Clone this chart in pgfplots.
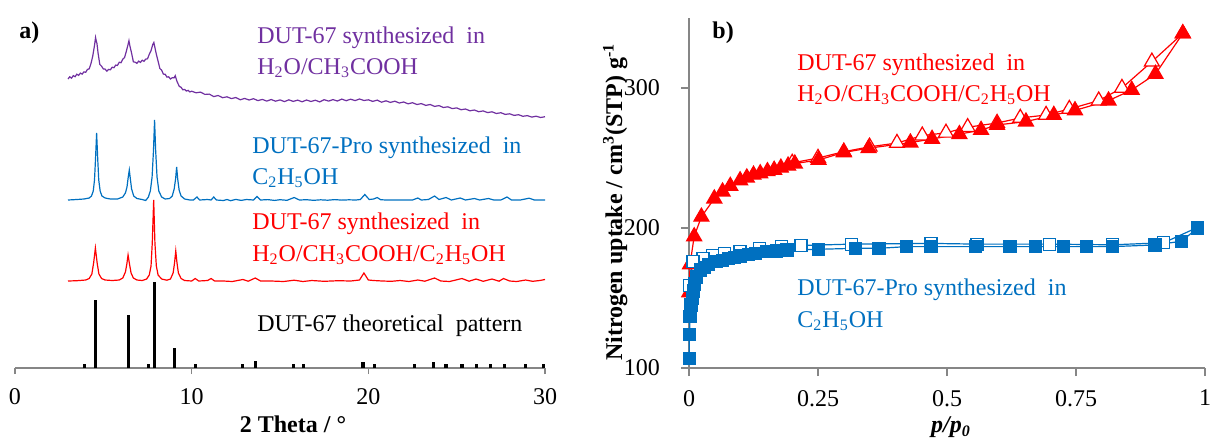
\documentclass[border=0pt]{standalone}
\usepackage{fontspec}
\setmainfont{Liberation Serif}
\usepackage{pgfplots}
\pgfplotsset{compat=1.18}
\definecolor{mypurple}{HTML}{7030A0}
\definecolor{myblue}{HTML}{0070C0}
\definecolor{myred}{HTML}{FF0000}
\definecolor{axgray}{HTML}{868686}
\newcommand{\fs}{\fontsize{12}{14}\selectfont}
\begin{document}
\begin{tikzpicture}
\path[use as bounding box] (0,0) rectangle (606.5pt,-220pt);
% ---------------- panel a ----------------
\begin{axis}[
  at={(7.5pt,-184pt)}, anchor=south west,
  scale only axis, width=265pt, height=175pt,
  xmin=0, xmax=30, ymin=0, ymax=350,
  axis x line*=bottom, axis y line=none,
  xtick={0,10,20,30}, ytick=\empty,
  tick align=outside, major tick length=3pt,
  axis line style={axgray, line width=0.8pt},
  tick style={axgray, line width=0.8pt},
  ticklabel style={font=\fs},
  xticklabel style={yshift=-3.5pt},
  /pgf/number format/assume math mode=true,
  xlabel={\textbf{2 Theta / °}}, xlabel style={font=\fs, xshift=6.5pt, yshift=1pt},
  clip=false,
]
\addplot[black, line width=1.6pt, ycomb, no marks] coordinates {
(3.95,4) (4.56,68) (6.41,53) (7.54,4) (7.88,86) (9.05,20) (10.2,4) (12.86,4)
(13.63,7) (15.77,4) (16.35,4) (19.7,6) (20.36,4) (22.6,4) (23.7,6) (24.4,4)
(25.3,4) (26.1,4) (26.9,4) (27.7,4) (28.9,4) (29.9,4)};
\addplot[myred, line width=0.6pt, no marks] coordinates {
(3.0,87) (3.5,87.3) (4.0,88) (4.2,89.5) (4.35,94) (4.45,105) (4.55,120) (4.65,105)
(4.75,94) (4.9,89.5) (5.1,88) (5.5,87.5) (5.9,88) (6.1,90) (6.25,96) (6.33,104)
(6.4,113) (6.48,104) (6.57,95) (6.7,90) (6.9,88) (7.2,87.5) (7.45,89) (7.6,93)
(7.7,102) (7.77,125) (7.85,168) (7.92,125) (8.0,102) (8.1,93) (8.3,89) (8.6,87.8)
(8.8,89) (8.95,95) (9.03,105) (9.1,117) (9.17,105) (9.25,95) (9.4,89.5) (9.6,87.5)
(10.0,87) (10.2,89.5) (10.4,87) (10.9,87.5) (11.1,89.5) (11.3,87) (11.8,87) (12.3,86.5)
(12.9,88.5) (13.2,86.8) (13.6,90) (13.9,87) (14.5,87) (15.2,86.5) (15.8,87.8) (16.3,86.5)
(16.8,87.5) (17.5,86.7) (18.3,87.3) (19.0,87) (19.5,88) (19.75,95) (20.0,88) (20.3,87.5)
(20.8,87) (21.3,86.7) (21.8,87.5) (22.3,86.5) (22.8,88) (23.2,86.8) (23.75,90) (24.1,87)
(24.6,86.5) (25.3,89.5) (25.7,86.8) (26.1,89) (26.5,86.7) (27.0,89) (27.4,86.8) (27.65,89.5)
(28.0,87) (28.4,86.5) (28.9,88) (29.3,86.7) (29.7,87.5) (30.0,88.5)};
\addplot[myblue, line width=0.6pt, no marks] coordinates {
(3.0,168) (3.5,168.5) (3.9,169) (4.2,170) (4.33,172) (4.43,177) (4.5,188) (4.56,210)
(4.62,235) (4.68,210) (4.74,188) (4.82,177) (4.92,172) (5.1,170) (5.4,169) (5.8,169)
(6.1,171) (6.25,175) (6.34,181) (6.41,191) (6.47,198) (6.53,189) (6.6,179) (6.72,172)
(6.9,169.5) (7.2,168.5) (7.4,167.5) (7.55,171) (7.66,177) (7.76,191) (7.84,218) (7.9,248)
(7.96,218) (8.04,191) (8.14,177) (8.3,171) (8.5,169) (8.75,169.5) (8.9,172) (9.01,179)
(9.09,189) (9.15,201) (9.21,189) (9.29,178) (9.4,172) (9.6,169) (9.9,168) (10.1,168)
(10.3,171) (10.45,168) (10.9,168.5) (11.1,168) (11.25,171) (11.4,168) (11.8,167.5) (12.0,168.5)
(12.2,167.3) (12.5,168.6) (12.8,167.6) (13.1,168.5) (13.5,168) (13.7,171.5) (13.9,168) (14.3,168.4)
(14.7,167.6) (15.0,168.3) (15.4,167.7) (15.8,170.5) (16.1,168) (16.5,168.3) (16.9,167.7) (17.3,168.2)
(17.7,167.8) (18.1,168.4) (18.5,167.9) (18.9,168.2) (19.3,168) (19.55,168.5) (19.8,173.5) (20.05,168.5)
(20.3,169) (20.5,170.5) (20.7,168.3) (21.0,168) (21.5,168) (22.0,168) (22.5,168) (22.8,170)
(23.0,168) (23.4,168.5) (23.75,172) (24.0,168.5) (24.4,170.5) (24.7,168) (25.2,170) (25.5,168)
(26.0,169.5) (26.3,168) (26.8,169.5) (27.1,168) (27.5,168) (27.85,171) (28.1,168) (28.6,168)
(29.1,169.8) (29.4,168) (30.0,168)};
\addplot[mypurple, line width=0.6pt, no marks] coordinates {
(3.0,289.0) (3.1,291.2) (3.2,289.8) (3.3,292.4) (3.4,291.3) (3.5,293.8) (3.6,292.6) (3.7,294.9)
(3.8,293.9) (3.9,296.1) (4.0,295.7) (4.1,298.6) (4.2,299.2) (4.3,304.5) (4.4,311.8) (4.5,322.5)
(4.56,330.5) (4.6,327.0) (4.64,324.5) (4.7,315.2) (4.8,303.6) (4.9,301.8) (5.0,299.1) (5.1,298.9)
(5.2,296.8) (5.3,298.6) (5.4,298.2) (5.5,300.8) (5.6,300.3) (5.7,302.9) (5.8,302.6) (5.9,305.8)
(6.0,305.3) (6.1,308.8) (6.2,310.4) (6.3,316.6) (6.4,323.5) (6.45,327.3) (6.5,322.4) (6.6,314.8)
(6.7,306.2) (6.8,305.8) (6.9,304.7) (7.0,306.9) (7.1,305.6) (7.2,307.8) (7.3,306.7) (7.4,308.9)
(7.5,309.2) (7.6,313.7) (7.7,317.4) (7.8,323.6) (7.86,325.5) (7.92,320.4) (8.0,313.8) (8.1,306.7)
(8.2,299.5) (8.3,297.8) (8.4,293.9) (8.5,293.7) (8.6,290.9) (8.7,291.2) (8.8,289.0) (8.9,290.3)
(9.0,290.1) (9.07,292.3) (9.15,287.6) (9.2,285.4) (9.3,281.6) (9.4,280.7) (9.5,278.2) (9.6,278.6)
(9.7,277.0) (9.8,277.6) (9.9,276.1) (10.0,276.8) (10.25,275.2) (10.5,275.9) (10.75,273.6) (11.0,273.9)
(11.25,271.4) (11.5,272.5) (11.75,270.3) (12.0,271.2) (12.25,269.4) (12.5,270.5) (12.75,268.2) (13.0,269.6)
(13.25,268.0) (13.5,269.3) (13.75,267.4) (14.0,268.6) (14.25,266.9) (14.5,268.5) (14.75,266.8) (15.0,268.1)
(15.25,266.4) (15.5,268.2) (15.75,266.6) (16.0,267.9) (16.25,266.2) (16.5,268.0) (16.75,266.5) (17.0,267.8)
(17.25,266.1) (17.5,268.3) (17.75,266.9) (18.0,268.4) (18.25,267.0) (18.5,268.9) (18.75,267.3) (19.0,268.8)
(19.25,267.4) (19.5,269.0) (19.75,267.5) (20.0,268.2) (20.25,266.6) (20.5,267.9) (20.75,265.8) (21.0,267.2)
(21.25,265.6) (21.5,266.8) (21.75,265.0) (22.0,266.0) (22.25,264.2) (22.5,265.3) (22.75,263.5) (23.0,264.4)
(23.25,262.6) (23.5,263.5) (23.75,261.6) (24.0,262.4) (24.25,260.5) (24.5,261.2) (24.75,259.4) (25.0,260.1)
(25.25,258.3) (25.5,259.0) (25.75,257.2) (26.0,258.0) (26.25,256.3) (26.5,257.1) (26.75,255.4) (27.0,256.2)
(27.25,254.5) (27.5,255.3) (27.75,253.6) (28.0,254.2) (28.25,252.6) (28.5,253.3) (28.75,251.7) (29.0,252.4)
(29.25,250.9) (29.5,251.8) (29.75,250.5) (30.0,251.3)};
\end{axis}
% ---------------- panel b ----------------
\begin{axis}[
  at={(344.5pt,-184pt)}, anchor=south west,
  scale only axis, width=258pt, height=175pt,
  xmin=0, xmax=1, ymin=100, ymax=350,
  axis x line*=bottom, axis y line*=left,
  xtick={0,0.25,0.5,0.75,1}, xticklabels={0,0.25,0.5,0.75,1},
  ytick={100,200,300},
  tick align=outside, major tick length=4pt,
  axis line style={axgray, line width=0.8pt},
  tick style={axgray, line width=0.8pt},
  ticklabel style={font=\fs},
  xticklabel style={yshift=-3.5pt},
  yticklabel style={xshift=-7pt},
  /pgf/number format/assume math mode=true,
  xlabel={\textbf{\textit{p/p\textsubscript{0}}}}, xlabel style={font=\fs, xshift=2pt, yshift=1.5pt},
  ylabel={\textbf{Nitrogen uptake / cm\textsuperscript{3}(STP) g\textsuperscript{-1}}},
  ylabel style={font=\fs, at={(axis description cs:-0.143,0.474)}, anchor=center},
  clip=false,
]
\addplot[myred, line width=0.6pt, mark=triangle*, mark size=4.3pt, mark options={fill=white, draw=myred, line width=0.6pt}] coordinates {
(0.957,339) (0.897,318.8) (0.839,300) (0.794,291) (0.737,285) (0.692,280.7) (0.642,278.6) (0.597,275)
(0.54,272) (0.498,268) (0.452,266) (0.403,260.7) (0.35,258) (0.30,254.5) (0.25,250) (0.20,246.5)};
\addplot[myred, line width=0.6pt, mark=triangle*, mark size=4.3pt, mark options={fill=myred, draw=myred}] coordinates {
(0.0005,154) (0.002,174) (0.010,194) (0.024,208) (0.049,221) (0.065,226) (0.08,230) (0.099,234)
(0.112,236) (0.125,238) (0.138,239) (0.152,240.5) (0.165,241.5) (0.178,243) (0.192,244.5) (0.205,246)
(0.251,248.6) (0.30,254) (0.348,257) (0.429,261) (0.471,263.6) (0.524,267) (0.566,270) (0.597,273.6)
(0.653,276) (0.707,280.7) (0.748,284) (0.813,291) (0.858,298.6) (0.904,310) (0.957,339)};
\addplot[myblue, line width=0.6pt, mark=square*, mark size=3pt, mark options={fill=white, draw=myblue, line width=0.6pt}] coordinates {
(0.986,200.5) (0.92,189.5) (0.821,188) (0.699,188.5) (0.558,188.5) (0.469,189) (0.315,188.5) (0.217,187.5)
(0.179,187) (0.137,185.5) (0.099,183.5) (0.068,182) (0.046,180.5) (0.027,178) (0.0076,176) (0.001,159)};
\addplot[myblue, line width=0.6pt, mark=square*, mark size=3pt, mark options={fill=myblue, draw=myblue}] coordinates {
(0.0002,107) (0.0008,124) (0.002,137) (0.004,145) (0.006,150) (0.008,155) (0.011,160) (0.015,165)
(0.023,170) (0.03,172) (0.038,174) (0.053,176) (0.065,177) (0.076,178) (0.088,179) (0.099,180)
(0.115,181) (0.129,182) (0.15,183) (0.17,183.6) (0.19,184.3) (0.251,184.8) (0.323,185.5) (0.368,185.5)
(0.422,186.7) (0.469,186.7) (0.555,186.7) (0.622,186.7) (0.671,186.7) (0.726,186.7) (0.771,186.7) (0.821,186.7)
(0.903,187.9) (0.954,190.5) (0.986,200)};
\end{axis}
% ---------------- annotations (pixel grid, y downwards) ----------------
\begin{scope}[x=0.5pt, y=-0.5pt, every node/.style={font=\fs, inner sep=0pt, anchor=base west}]
\node at (19,38) {\textbf{a)}};
\node[text=mypurple] at (257,43) {DUT-67 synthesized\ \ in};
\node[text=mypurple] at (257,74) {H\textsubscript{2}O/CH\textsubscript{3}COOH};
\node[text=myblue] at (252,153) {DUT-67-Pro synthesized\ \ in};
\node[text=myblue] at (252,184) {C\textsubscript{2}H\textsubscript{5}OH};
\node[text=myred] at (252,229) {DUT-67 synthesized\ \ in};
\node[text=myred] at (252,261) {H\textsubscript{2}O/CH\textsubscript{3}COOH/C\textsubscript{2}H\textsubscript{5}OH};
\node at (257,331) {DUT-67 theoretical\ \ pattern};
\node at (712,38) {\textbf{b)}};
\node[text=myred] at (797,70) {DUT-67 synthesized\ \ in};
\node[text=myred] at (797,101) {H\textsubscript{2}O/CH\textsubscript{3}COOH/C\textsubscript{2}H\textsubscript{5}OH};
\node[text=myblue] at (797,295) {DUT-67-Pro synthesized\ \ in};
\node[text=myblue] at (797,327) {C\textsubscript{2}H\textsubscript{5}OH};
\end{scope}
\end{tikzpicture}
\end{document}
